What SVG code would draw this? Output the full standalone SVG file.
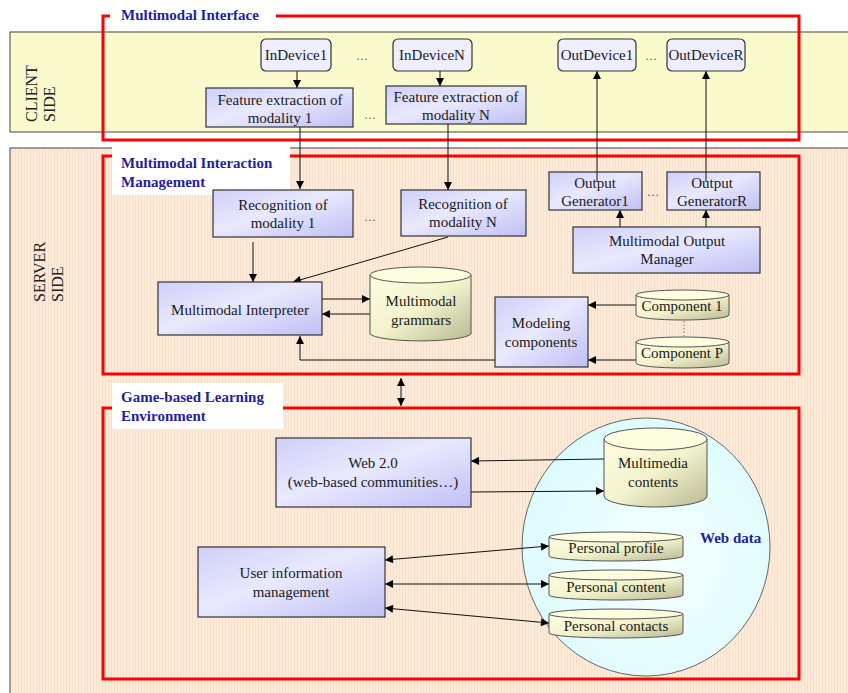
<svg xmlns="http://www.w3.org/2000/svg" width="848" height="693" viewBox="0 0 848 693">
<style>
  text { font-family: "Liberation Serif", "Times New Roman", serif; fill: #1a1a1a; }
  .t { font-size: 15px; text-anchor: middle; }
  .side { font-size: 16px; fill: #222; }
  .title { font-size: 15px; font-weight: bold; fill: #1f1f9e; }
  .dots { font-size: 12px; text-anchor: middle; fill: #555; }
  .box { fill: url(#boxg); stroke: #333; stroke-width: 1.2; }
  .dev { fill: #eeeefe; stroke: #333; stroke-width: 1.2; }
  .cylb { fill: url(#cylg); stroke: #555; stroke-width: 1; }
  .cylt { fill: #fdfde0; stroke: #555; stroke-width: 1; }
  .red { fill: none; stroke: #ff0000; stroke-width: 3; }
  .lbl { fill: #ffffff; }
  .c { fill: none; stroke: #111; stroke-width: 1; }
  .a { marker-end: url(#arr); }
  .a2 { marker-end: url(#arr); marker-start: url(#arr); }
</style>
<defs>
  <linearGradient id="boxg" x1="0" y1="0" x2="1" y2="1">
    <stop offset="0" stop-color="#cfcff9"/>
    <stop offset="0.45" stop-color="#e9e9fe"/>
    <stop offset="1" stop-color="#bfbff5"/>
  </linearGradient>
  <linearGradient id="cylg" x1="0" y1="0" x2="1" y2="1">
    <stop offset="0" stop-color="#ffffe2"/>
    <stop offset="0.5" stop-color="#f2f2cc"/>
    <stop offset="1" stop-color="#b8b892"/>
  </linearGradient>
  <radialGradient id="webg" cx="0.55" cy="0.55" r="0.6">
    <stop offset="0" stop-color="#f6ffff"/>
    <stop offset="1" stop-color="#dcfbfd"/>
  </radialGradient>
  <pattern id="clientp" width="4" height="4" patternUnits="userSpaceOnUse">
    <rect width="4" height="4" fill="#fdfdd2"/>
    <path d="M0,0 L4,4 M4,0 L0,4" stroke="#f3f3c0" stroke-width="0.6"/>
  </pattern>
  <pattern id="serverp" width="3" height="3" patternUnits="userSpaceOnUse">
    <rect width="3" height="3" fill="#fdebd9"/>
    <rect x="0" y="0" width="1" height="3" fill="#f8dfca"/>
  </pattern>
  <marker id="arr" viewBox="0 0 10 10" refX="10" refY="5" markerWidth="9" markerHeight="8" markerUnits="userSpaceOnUse" orient="auto-start-reverse">
    <path d="M0,0 L10,5 L0,10 z" fill="#000"/>
  </marker>
</defs>

<!-- bands -->
<g id="client-band">
  <rect x="10" y="32" width="850" height="100" fill="url(#clientp)" stroke="#444" stroke-width="1"/>
  <text class="side" transform="translate(37,122) rotate(-90)">CLIENT</text>
  <text class="side" transform="translate(55,122) rotate(-90)">SIDE</text>
</g>
<g id="server-band">
  <rect x="10" y="148" width="850" height="560" fill="url(#serverp)" stroke="#444" stroke-width="1"/>
  <text class="side" transform="translate(45,302) rotate(-90)">SERVER</text>
  <text class="side" transform="translate(63,302) rotate(-90)">SIDE</text>
</g>

<!-- red frames -->
<g id="multimodal-interface">
  <rect class="red" x="103" y="16" width="696" height="124"/>
  <rect class="lbl" x="110" y="7" width="166" height="18"/>
  <text class="title" x="121" y="20">Multimodal Interface</text>
</g>
<g id="interaction-management">
  <rect class="red" x="103" y="156" width="696" height="218"/>
  <rect class="lbl" x="112" y="147" width="178" height="48"/>
  <text class="title" x="121" y="168">Multimodal Interaction</text>
  <text class="title" x="121" y="187">Management</text>
</g>
<g id="learning-environment">
  <rect class="red" x="103" y="408" width="696" height="271"/>
  <rect class="lbl" x="112" y="383" width="171" height="46"/>
  <text class="title" x="121" y="402">Game-based Learning</text>
  <text class="title" x="121" y="421">Environment</text>
</g>

<g id="web-data">
  <ellipse cx="646" cy="547" rx="124" ry="129" fill="url(#webg)" stroke="#666" stroke-width="1"/>
  <text class="title" x="700" y="543">Web data</text>
</g>

<!-- connectors -->
<g id="connectors">
  <line class="c a" x1="297" y1="71" x2="297" y2="88"/>
  <line class="c a" x1="440" y1="71" x2="440" y2="86"/>
  <line class="c a" x1="300" y1="127" x2="300" y2="189"/>
  <line class="c a" x1="448" y1="124" x2="448" y2="190"/>
  <line class="c a" x1="597" y1="172" x2="597" y2="71"/>
  <line class="c a" x1="706" y1="172" x2="706" y2="71"/>
  <line class="c a" x1="620" y1="227" x2="620" y2="210"/>
  <line class="c a" x1="706" y1="227" x2="706" y2="210"/>
  <line class="c a" x1="253" y1="242" x2="253" y2="282"/>
  <line class="c a" x1="448" y1="237" x2="293" y2="282"/>
  <line class="c a" x1="322" y1="299" x2="370" y2="299"/>
  <line class="c a" x1="370" y1="314" x2="322" y2="314"/>
  <line class="c a" x1="636" y1="305" x2="588" y2="305"/>
  <line class="c a" x1="636" y1="360" x2="588" y2="360"/>
  <polyline class="c a" points="495,360 300,360 300,336"/>
  <line x1="684" y1="321" x2="684" y2="337" stroke="#777" stroke-width="1" stroke-dasharray="1.5,2"/>
  <line class="c a2" x1="401" y1="378" x2="401" y2="406"/>
  <line class="c a" x1="604" y1="459" x2="471" y2="461"/>
  <line class="c a" x1="471" y1="492" x2="604" y2="491"/>
  <line class="c a2" x1="385" y1="560" x2="549" y2="546"/>
  <line class="c a2" x1="385" y1="584" x2="549" y2="584"/>
  <line class="c a2" x1="385" y1="608" x2="549" y2="623"/>
</g>

<!-- devices -->
<g id="indevice1"><rect class="dev" x="261" y="39" width="70" height="32" rx="5"/><text class="t" x="296" y="60">InDevice1</text></g>
<text class="dots" x="362" y="60">…</text>
<g id="indeviceN"><rect class="dev" x="393" y="39" width="79" height="32" rx="5"/><text class="t" x="432" y="60">InDeviceN</text></g>
<g id="outdevice1"><rect class="dev" x="558" y="39" width="78" height="32" rx="5"/><text class="t" x="597" y="60">OutDevice1</text></g>
<text class="dots" x="651" y="60">…</text>
<g id="outdeviceR"><rect class="dev" x="667" y="39" width="78" height="32" rx="5"/><text class="t" x="706" y="60">OutDeviceR</text></g>

<!-- feature extraction -->
<g id="feature1"><rect class="box" x="206" y="88" width="147" height="39"/><text class="t" x="280" y="105">Feature extraction of</text><text class="t" x="280" y="123">modality 1</text></g>
<text class="dots" x="370" y="119">…</text>
<g id="featureN"><rect class="box" x="386" y="86" width="140" height="38"/><text class="t" x="456" y="102">Feature extraction of</text><text class="t" x="456" y="120">modality N</text></g>

<!-- recognition -->
<g id="recognition1"><rect class="box" x="213" y="190" width="140" height="47"/><text class="t" x="283" y="210">Recognition of</text><text class="t" x="283" y="228">modality 1</text></g>
<text class="dots" x="370" y="221">…</text>
<g id="recognitionN"><rect class="box" x="401" y="190" width="125" height="46"/><text class="t" x="463" y="209">Recognition of</text><text class="t" x="463" y="227">modality N</text></g>

<!-- output generators -->
<g id="outgen1"><rect class="box" x="549" y="172" width="93" height="38"/><line x1="597" y1="172" x2="597" y2="182" stroke="#111" stroke-width="1"/><text class="t" x="595" y="188">Output</text><text class="t" x="595" y="206">Generator1</text></g>
<text class="dots" x="653" y="196">…</text>
<g id="outgenR"><rect class="box" x="667" y="172" width="93" height="38"/><line x1="706" y1="172" x2="706" y2="182" stroke="#111" stroke-width="1"/><text class="t" x="712" y="188">Output</text><text class="t" x="712" y="206">GeneratorR</text></g>
<g id="output-manager"><rect class="box" x="573" y="227" width="187" height="46"/><text class="t" x="667" y="246">Multimodal Output</text><text class="t" x="667" y="264">Manager</text></g>

<!-- interpreter -->
<g id="interpreter"><rect class="box" x="158" y="282" width="164" height="53"/><text class="t" x="240" y="315">Multimodal Interpreter</text></g>

<g id="grammars">
  <path class="cylb" d="M370,275 V334 A51,8 0 0 0 471,334 V275"/>
  <ellipse class="cylt" cx="420.5" cy="275" rx="50.5" ry="8"/>
  <text class="t" x="421" y="306">Multimodal</text>
  <text class="t" x="421" y="325">grammars</text>
</g>

<g id="modeling"><rect class="box" x="495" y="297" width="93" height="70"/><text class="t" x="541" y="328">Modeling</text><text class="t" x="541" y="347">components</text></g>

<g id="component1">
  <path class="cylb" d="M636,295 V315 A46.5,5 0 0 0 729,315 V295"/>
  <ellipse class="cylt" cx="682.5" cy="295" rx="46.5" ry="5"/>
  <text class="t" x="682" y="311">Component 1</text>
</g>
<g id="componentP">
  <path class="cylb" d="M636,342 V363 A46.5,5 0 0 0 729,363 V342"/>
  <ellipse class="cylt" cx="682.5" cy="342" rx="46.5" ry="5"/>
  <text class="t" x="682" y="358">Component P</text>
</g>

<!-- learning environment -->
<g id="web20"><rect class="box" x="276" y="438" width="195" height="69"/><text class="t" x="373" y="468">Web 2.0</text><text class="t" x="373" y="487">(web-based communities…)</text></g>
<g id="user-info"><rect class="box" x="198" y="547" width="187" height="70"/><text class="t" x="291" y="578">User information</text><text class="t" x="291" y="597">management</text></g>

<g id="multimedia">
  <path class="cylb" d="M604,439 V496 A51.5,11 0 0 0 707,496 V439"/>
  <ellipse class="cylt" cx="655.5" cy="439" rx="51.5" ry="11"/>
  <text class="t" x="653" y="468">Multimedia</text>
  <text class="t" x="653" y="487">contents</text>
</g>
<g id="profile">
  <path class="cylb" d="M549,537 V556 A67,5 0 0 0 683,556 V537"/>
  <ellipse class="cylt" cx="616" cy="537" rx="67" ry="5"/>
  <text class="t" x="616" y="553">Personal profile</text>
</g>
<g id="content">
  <path class="cylb" d="M549,575 V595 A67,5 0 0 0 683,595 V575"/>
  <ellipse class="cylt" cx="616" cy="575" rx="67" ry="5"/>
  <text class="t" x="616" y="592">Personal content</text>
</g>
<g id="contacts">
  <path class="cylb" d="M549,614 V633 A67,5 0 0 0 683,633 V614"/>
  <ellipse class="cylt" cx="616" cy="614" rx="67" ry="5"/>
  <text class="t" x="616" y="631">Personal contacts</text>
</g>
</svg>
